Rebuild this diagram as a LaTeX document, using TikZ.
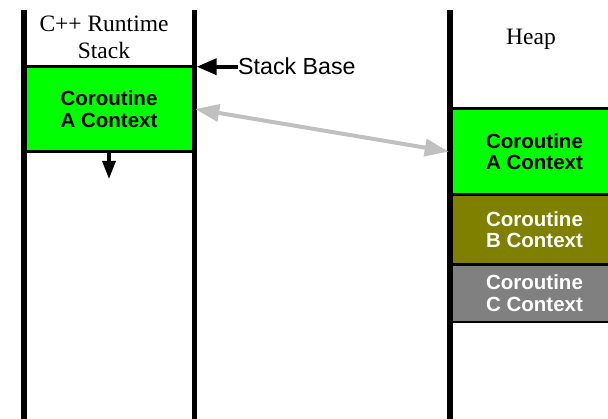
\documentclass[tikz,border=0pt]{standalone}
\usepackage{fontspec}
\setmainfont{Liberation Serif}
\setsansfont{Liberation Sans}
\usetikzlibrary{arrows.meta}
\definecolor{ctxgreen}{HTML}{00FF00}
\definecolor{ctxolive}{HTML}{808000}
\definecolor{ctxgray}{HTML}{808080}
\definecolor{linkgray}{HTML}{C0C0C0}
\begin{document}
\begin{tikzpicture}[x=1pt,y=-1pt,
  wall/.style={line width=5.5pt},
  ctx/.style={draw=black, line width=2.5pt, inner sep=0pt, align=center,
    font=\sffamily\bfseries\fontsize{20.5}{21.5}\selectfont},
  title/.style={font=\rmfamily\fontsize{23.5}{27.6}\selectfont, inner sep=0pt, align=center},
  label/.style={font=\sffamily\fontsize{23.2}{25}\selectfont, inner sep=0pt},
]
\useasboundingbox (0,0) rectangle (608,419);

% context blocks on the runtime stack and in the heap
\node[ctx, fill=ctxgreen, minimum width=170pt, minimum height=85pt] (stackA) at (109,109) {Coroutine\\A Context};
\node[ctx, fill=ctxgreen, minimum width=169pt, minimum height=85.8pt] (heapA) at (534.5,151.6) {Coroutine\\A Context};
\node[ctx, fill=ctxolive, text=white, minimum width=169pt, minimum height=70.2pt] (heapB) at (534.5,229.6) {Coroutine\\B Context};
\node[ctx, fill=ctxgray, text=white, minimum width=169pt, minimum height=57.3pt] (heapC) at (534.5,293.35) {Coroutine\\C Context};

% walls of the stack and of the heap
\draw[wall] (24,10) -- (24,419);
\draw[wall] (194.5,10) -- (194.5,419);
\draw[wall] (450,10) -- (450,419);

% titles
\node[title] (stacktitle) at (104,37.5) {C++ Runtime\\Stack};
\node[title, anchor=base] (heaptitle) at (531,45) {Heap};

% stack base marker
\node[label, anchor=base west] (sbase) at (238,75) {Stack Base};
\coordinate (sbtip) at (196.7,68);
\draw[line width=3.8pt, -{Triangle[length=20pt,width=16pt]}] (sbase.west) -- (sbtip |- sbase.west);

% direction of stack growth
\coordinate (growtip) at (109,179);
\draw[line width=3.3pt, -{Triangle[length=18pt,width=13pt]}] (stackA.south) -- (growtip);

% context switch between stack and heap
\draw[linkgray, line width=4pt, {Triangle[length=24pt,width=17pt]}-{Triangle[length=24pt,width=17pt]}] (stackA.east) -- (heapA.west);
\end{tikzpicture}
\end{document}
